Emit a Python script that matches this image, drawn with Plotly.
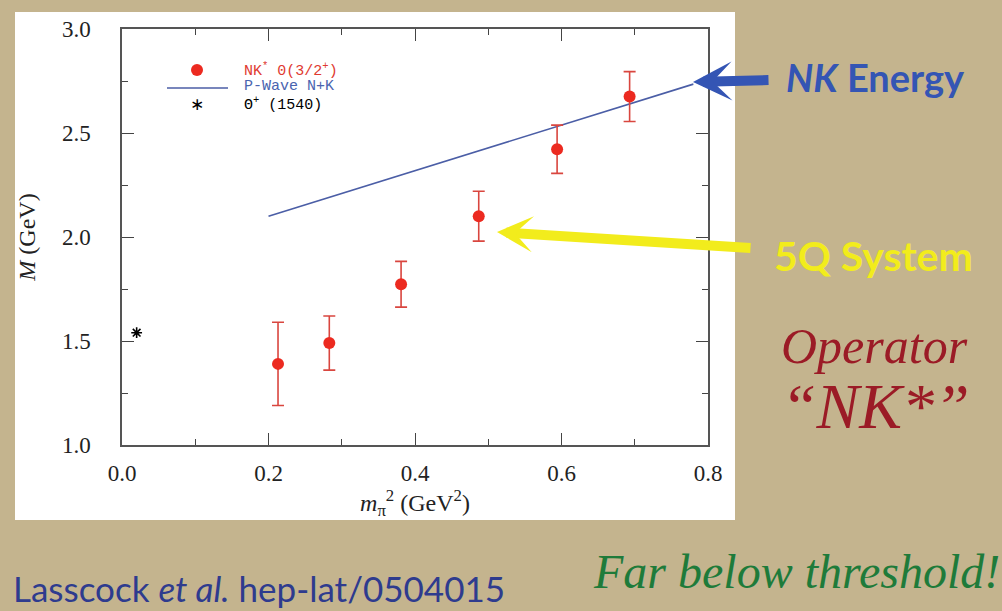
import plotly.graph_objects as go

# ---------------- data ----------------
mpi2 = [0.213, 0.283, 0.381, 0.487, 0.594, 0.693]
mass = [1.39, 1.49, 1.773, 2.10, 2.422, 2.675]
mass_err = [0.20, 0.13, 0.11, 0.12, 0.116, 0.12]

pwave_x = [0.2, 0.4, 0.6, 0.78]
pwave_y = [2.10, 2.32, 2.54, 2.735]

theta_x = [0.02]
theta_y = [1.54]

x_ticks = [0.0, 0.2, 0.4, 0.6, 0.8]
x_tick_labels = ["0.0", "0.2", "0.4", "0.6", "0.8"]
y_ticks = [1.0, 1.5, 2.0, 2.5, 3.0]
y_tick_labels = ["1.0", "1.5", "2.0", "2.5", "3.0"]

# ---------------- layout helpers ----------------
W, H = 1002, 611
L, R, T, B = 122, 294, 29, 166
PW = W - L - R
PH = H - T - B


def px(x):
    return (x - L) / PW


def py(y):
    return (H - B - y) / PH


RED = "#ec2a20"
ERR = "#d9463f"
BLUE_LINE = "#4b5ea6"
BG = "#c4b48e"

fig = go.Figure()

fig.add_trace(go.Scatter(
    x=pwave_x, y=pwave_y, mode="lines",
    line=dict(color=BLUE_LINE, width=1.6), showlegend=False, hoverinfo="skip"))

fig.add_trace(go.Scatter(
    x=mpi2, y=mass, mode="markers",
    marker=dict(color=RED, size=12),
    error_y=dict(type="data", array=mass_err, color=ERR, thickness=1.6, width=6),
    showlegend=False))

fig.add_trace(go.Scatter(
    x=theta_x, y=theta_y, mode="markers",
    marker=dict(symbol="asterisk-open", size=9, color="black",
                line=dict(color="black", width=1.6)),
    showlegend=False, cliponaxis=False))

axis_common = dict(
    showgrid=False, zeroline=False, showline=True, linecolor="#555555", linewidth=1.5,
    mirror="ticks", ticks="inside", ticklen=12, tickwidth=1.3, tickcolor="#444444",
    tickfont=dict(family="Liberation Serif", size=23, color="#222222"),
)

fig.update_layout(
    width=W, height=H,
    margin=dict(l=L, r=R, t=T, b=B, pad=0),
    paper_bgcolor=BG, plot_bgcolor="white",
    xaxis=dict(range=[0, 0.8], tickvals=x_ticks, ticktext=x_tick_labels,
               minor=dict(dtick=0.1, ticks="inside", ticklen=6, tickwidth=1.3, tickcolor="#444444"),
               ticklabelstandoff=7,
               title=dict(text="<i>m</i><sub>π</sub><sup>2</sup> (GeV<sup>2</sup>)",
                          font=dict(family="Liberation Serif", size=24, color="#222222"),
                          standoff=4),
               **axis_common),
    yaxis=dict(range=[1, 3], tickvals=y_ticks, ticktext=y_tick_labels,
               minor=dict(dtick=0.25, ticks="inside", ticklen=6, tickwidth=1.3, tickcolor="#444444"),
               ticklabelstandoff=25,
               title=dict(text="<i>M</i> (GeV)",
                          font=dict(family="Liberation Serif", size=24, color="#222222"),
                          standoff=20),
               **axis_common),
)

# white slide panel behind the chart
fig.add_shape(type="rect", xref="paper", yref="paper",
              x0=px(15), x1=px(735), y0=py(520), y1=py(12),
              fillcolor="white", line=dict(width=0), layer="below")

# manual legend
fig.add_shape(type="circle", xref="paper", yref="paper",
              x0=px(191), x1=px(203), y0=py(76), y1=py(64),
              fillcolor=RED, line=dict(width=0))
fig.add_shape(type="line", xref="paper", yref="paper",
              x0=px(167), x1=px(228), y0=py(88), y1=py(88),
              line=dict(color=BLUE_LINE, width=1.6))

annos = []
annos.append(dict(text="∗", x=px(197), y=py(104), xref="paper", yref="paper",
                  xanchor="center", yanchor="middle", showarrow=False,
                  font=dict(family="DejaVu Sans", size=17, color="black")))
legend_font = "Liberation Mono"
annos.append(dict(text="NK<sup>*</sup> 0(3/2<sup>+</sup>)", x=px(242), y=py(70),
                  xref="paper", yref="paper", xanchor="left", yanchor="middle",
                  showarrow=False, font=dict(family=legend_font, size=15, color="#e03a30")))
annos.append(dict(text="P-Wave N+K", x=px(242), y=py(87),
                  xref="paper", yref="paper", xanchor="left", yanchor="middle",
                  showarrow=False, font=dict(family=legend_font, size=15, color="#4a64b0")))
annos.append(dict(text="Θ<sup>+</sup> (1540)", x=px(242), y=py(104),
                  xref="paper", yref="paper", xanchor="left", yanchor="middle",
                  showarrow=False, font=dict(family=legend_font, size=15, color="black")))

# arrows
annos.append(dict(text="", x=px(693), y=py(82), xref="paper", yref="paper",
                  ax=770 - 693, ay=80 - 82, axref="pixel", ayref="pixel",
                  showarrow=True, arrowhead=3, arrowsize=0.65, arrowwidth=10,
                  arrowcolor="#3455b4", standoff=0))
annos.append(dict(text="", x=px(497), y=py(232), xref="paper", yref="paper",
                  ax=752 - 497, ay=248 - 232, axref="pixel", ayref="pixel",
                  showarrow=True, arrowhead=3, arrowsize=0.6, arrowwidth=10,
                  arrowcolor="#f2ec1c", standoff=0))

# slide texts
annos.append(dict(text="<i>NK</i> Energy", x=px(784), y=py(77), xref="paper", yref="paper",
                  xanchor="left", yanchor="middle", showarrow=False,
                  font=dict(family="Lato", size=38, color="#3455b4", weight="bold")))
annos.append(dict(text="5Q System", x=px(772), y=py(256), xref="paper", yref="paper",
                  xanchor="left", yanchor="middle", showarrow=False,
                  font=dict(family="Lato", size=41, color="#f2ec1c", weight="bold")))
annos.append(dict(text="<i>Operator</i>", x=px(874), y=py(346), xref="paper", yref="paper",
                  xanchor="center", yanchor="middle", showarrow=False,
                  font=dict(family="Liberation Serif", size=50, color="#9b1b26")))
annos.append(dict(text="<i>“NK*”</i>", x=px(875), y=py(406),
                  xref="paper", yref="paper",
                  xanchor="center", yanchor="middle", showarrow=False,
                  font=dict(family="Liberation Serif", size=64, color="#9b1b26")))
annos.append(dict(text="<i>Far below threshold!</i>", x=px(591), y=py(571), xref="paper", yref="paper",
                  xanchor="left", yanchor="middle", showarrow=False,
                  font=dict(family="Liberation Serif", size=48, color="#1e7b3a")))
annos.append(dict(text="Lasscock <i>et al.</i> hep-lat/0504015", x=px(11), y=py(588),
                  xref="paper", yref="paper", xanchor="left", yanchor="middle", showarrow=False,
                  font=dict(family="Lato", size=35, color="#2e3b8e")))

fig.update_layout(annotations=annos)

fig.write_html("out.html")
